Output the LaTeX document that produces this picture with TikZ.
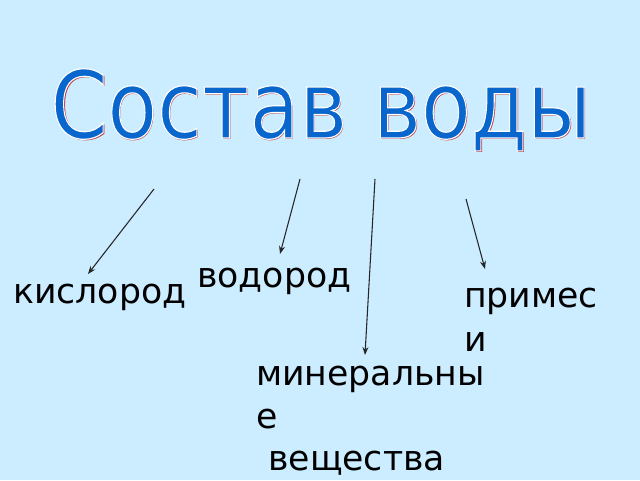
\documentclass[tikz,border=0pt]{standalone}
\usepackage{fontspec}
\setmainfont{DejaVu Sans}
\usetikzlibrary{arrows.meta}
\definecolor{bgblue}{HTML}{CCECFF}
\definecolor{titleblue}{HTML}{0866CC}
\definecolor{titlered}{HTML}{C0303A}
\newcommand{\strokedtext}[1]{\special{pdf:literal direct 2 Tr 0.9 w 1 1 1 RG}#1\special{pdf:literal direct 0 Tr}}
\begin{document}
\begin{tikzpicture}[x=0.75pt,y=-0.75pt,
  lbl/.style={anchor=base west,inner sep=0pt,font=\fontsize{26}{30}\selectfont,text=black},
  ttl/.style={anchor=base,inner sep=0pt,xscale=0.872,font=\fontsize{70}{80}\selectfont},
  arr/.style={draw=black!85,line width=0.8pt,-{Stealth[length=6pt,width=4.5pt]}}]
\fill[bgblue] (0,0) rectangle (640,480);
\useasboundingbox (0,0) rectangle (640,480);
% title: red shadow, blue face with white outline
\node[ttl,text=titlered] (shadow) at (322.5,139.5) {Состав воды};
\node[ttl,text=titleblue] (title) at (321,138) {\strokedtext{Состав воды}};
% labels
\node[lbl] (kis) at (13,303) {кислород};
\node[lbl] (vod) at (197,287) {водород};
\node[lbl] (pri1) at (464,307) {примес};
\node[lbl] (pri2) at (464,351) {и};
\node[lbl] (min1) at (256,385) {минеральны};
\node[lbl] (min2) at (256,428) {е};
\node[lbl] (min3) at (268,470) {вещества};
% arrows
\coordinate (t1) at (154,189); \coordinate (h1) at (88,274);
\coordinate (t2) at (300,179); \coordinate (h2) at (280,254);
\coordinate (t3) at (375,179); \coordinate (h3) at (365,355);
\coordinate (t4) at (466,199); \coordinate (h4) at (485,269);
\draw[arr] (t1) -- (h1);
\draw[arr] (t2) -- (h2);
\draw[arr] (t3) -- (h3);
\draw[arr] (t4) -- (h4);
\end{tikzpicture}
\end{document}
